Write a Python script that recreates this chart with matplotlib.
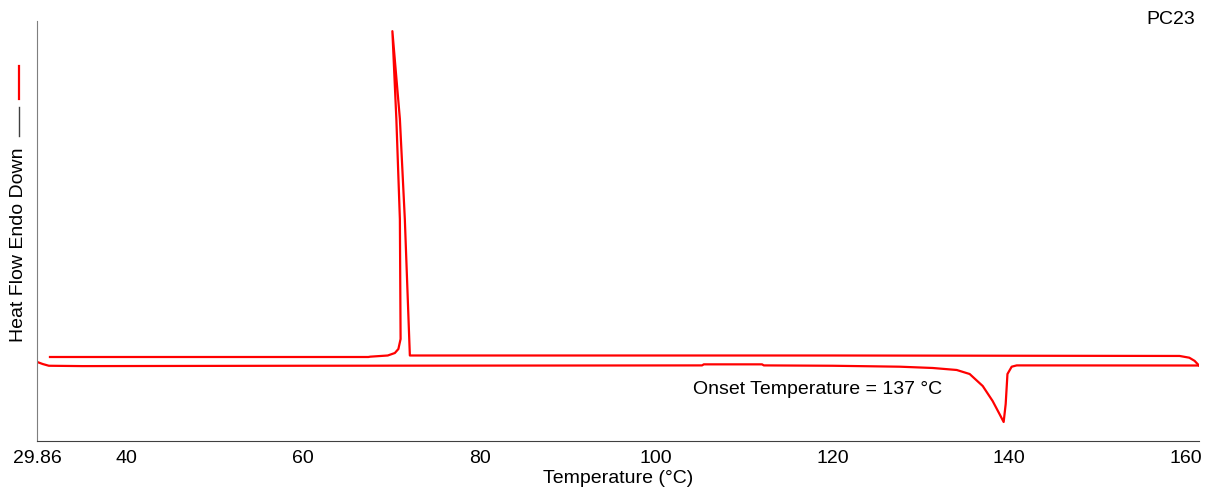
import matplotlib.pyplot as plt
from matplotlib.lines import Line2D

plt.rcParams['font.family'] = ['Liberation Sans', 'DejaVu Sans']

# Heating run (endo down): temperature (°C) and heat flow (arb. units)
heat_T = [29.86, 30.5, 31.2, 35.0, 60.0, 105.2, 105.4, 112.0, 112.2, 120.0,
          127.6, 131.33, 134.05, 135.52, 137.0, 138.12, 138.9, 139.37,
          139.6, 139.8, 140.28, 140.85, 161.5]
heat_hf = [0.26, 0.20, 0.15, 0.14, 0.15, 0.16, 0.19, 0.19, 0.16, 0.15,
           0.123, 0.086, 0.029, -0.086, -0.429, -0.857, -1.229, -1.457,
           -0.943, -0.086, 0.123, 0.16, 0.157]

# Cooling run (exotherm up)
cool_T = [161.5, 161.0, 160.4, 159.3, 120.0, 90.0, 72.1, 71.53, 70.97, 70.12,
          70.57, 70.97, 71.05, 70.8, 70.4, 69.6, 67.6, 67.4, 50.0, 31.33]
cool_hf = [0.157, 0.29, 0.38, 0.43, 0.443, 0.443, 0.443, 4.34, 7.2, 9.71,
           7.2, 4.34, 0.914, 0.629, 0.514, 0.443, 0.409, 0.40, 0.40, 0.40]

x_ticks = [29.86, 40, 60, 80, 100, 120, 140, 160]
x_labels = ["29.86", "40", "60", "80", "100", "120", "140", "160"]

fig = plt.figure(figsize=(12.05, 4.89), dpi=100)
ax = fig.add_axes([37 / 1205, 1 - 442 / 489, (1199 - 37) / 1205, (442 - 22) / 489])

ax.plot(heat_T, heat_hf, color='#ff0000', lw=1.6)
ax.plot(cool_T, cool_hf, color='#ff0000', lw=1.6)

ax.set_xlim(29.86, 161.5)
ax.set_ylim(-2, 10)

ax.set_xticks(x_ticks)
ax.set_xticklabels(x_labels, fontsize=14)
ax.tick_params(axis='x', length=0, pad=6)
ax.set_yticks([])

for s in ['top', 'right']:
    ax.spines[s].set_visible(False)
ax.spines['left'].set_color('#7f7f7f')
ax.spines['bottom'].set_color('#404040')

ax.set_xlabel("Temperature (°C)", fontsize=14, labelpad=2)

ax.text(104.15, -0.51, "Onset Temperature = 137 °C", fontsize=14, ha='left', va='center')

# y label with line legend
fig.text(19 / 1205, 1 - 245 / 489, "Heat Flow Endo Down", rotation=90,
         fontsize=14, ha='center', va='center')
fig.add_artist(Line2D([19 / 1205, 19 / 1205], [1 - 137 / 489, 1 - 108 / 489],
                      color='#404040', lw=1.0, transform=fig.transFigure))
fig.add_artist(Line2D([19 / 1205, 19 / 1205], [1 - 100 / 489, 1 - 67 / 489],
                      color='#ff0000', lw=1.6, transform=fig.transFigure))

fig.text(1195 / 1205, 1 - 20 / 489, "PC23", fontsize=14, ha='right', va='center')

plt.savefig("out.png", dpi=100)
